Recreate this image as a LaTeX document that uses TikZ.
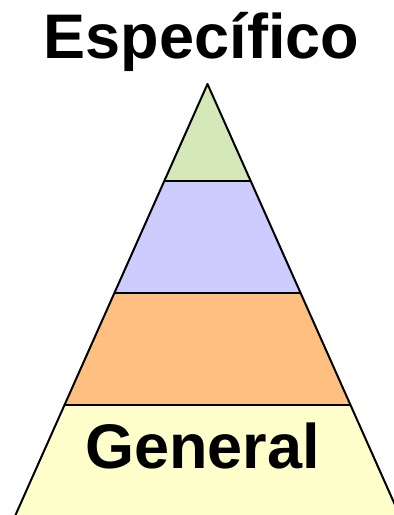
\documentclass[tikz,border=0pt]{standalone}
\usepackage{fontspec}
\setmainfont{Liberation Sans}
\usetikzlibrary{calc}
\definecolor{cTop}{HTML}{D5E8B8}
\definecolor{cMid}{HTML}{CCCCFF}
\definecolor{cLow}{HTML}{FFBF80}
\definecolor{cBase}{HTML}{FFFFCC}
\tikzset{
  layer/.style={draw=black, line width=2pt, line join=round},
  big/.style={font=\fontsize{63}{63}\bfseries\selectfont, inner sep=0pt, anchor=base},
}

\begin{document}
\begin{tikzpicture}[x=1pt, y=-1pt]
    \useasboundingbox (0,0) rectangle (394,515);
    % apex and the points where the sides cross each level
    \coordinate (apex) at (207.5,84);
    \coordinate (l1) at (164.3,181);  \coordinate (r1) at (250.7,181);
    \coordinate (l2) at (114.4,293);  \coordinate (r2) at (300.6,293);
    \coordinate (l3) at (64.5,405);   \coordinate (r3) at (350.5,405);
    \coordinate (l4) at (15.5,515);   \coordinate (r4) at (399.5,515);
    \begin{scope}
      \clip (0,0) rectangle (394,515);
      \fill[cTop] (apex) -- (r1) -- (l1) -- cycle;
      \fill[cMid] (l1) -- (r1) -- (r2) -- (l2) -- cycle;
      \fill[cLow] (l2) -- (r2) -- (r3) -- (l3) -- cycle;
      \fill[cBase] (l3) -- (r3) -- (r4) -- (l4) -- cycle;
      \draw[layer] (l4) -- (apex) -- (r4);
      \draw[layer] (l1) -- (r1);
      \draw[layer] (l2) -- (r2);
      \draw[layer] (l3) -- (r3);
    \end{scope}
    \node[big] (especifico) at (201.5,58) {Específico};
    \node[big] (general) at (202.5,468) {General};
\end{tikzpicture}
\end{document}
